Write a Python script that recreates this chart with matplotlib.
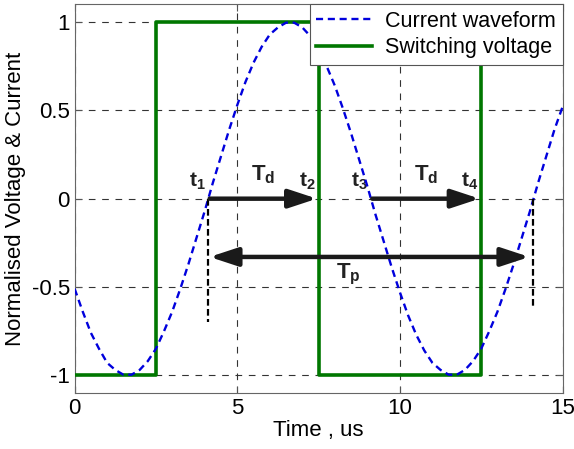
import matplotlib.pyplot as plt

plt.rcParams['font.family'] = ['Liberation Sans', 'DejaVu Sans']
plt.rcParams['mathtext.fontset'] = 'custom'
plt.rcParams['mathtext.bf'] = 'Liberation Sans:bold'
plt.rcParams['mathtext.rm'] = 'Liberation Sans'

# current waveform, every 0.25 us
time_us = [i * 0.25 for i in range(61)]
current = [-0.51, -0.64, -0.76, -0.85, -0.93, -0.97, -0.997, -0.997, -0.97, -0.92,
           -0.85, -0.75, -0.64, -0.51, -0.37, -0.22, -0.07, 0.09, 0.24, 0.39,
           0.53, 0.66, 0.77, 0.86, 0.93, 0.97, 0.997, 0.997, 0.97, 0.92,
           0.85, 0.75, 0.64, 0.51, 0.37, 0.22, 0.07, -0.09, -0.24, -0.39,
           -0.53, -0.66, -0.77, -0.86, -0.93, -0.97, -0.997, -0.997, -0.97, -0.92,
           -0.85, -0.75, -0.64, -0.51, -0.37, -0.22, -0.07, 0.09, 0.24, 0.39, 0.52]

# switching voltage (square wave corners)
sw_time = [0, 2.5, 2.5, 7.5, 7.5, 12.5, 12.5, 15]
sw_volt = [-1, -1, 1, 1, -1, -1, 1, 1]

# event times
t_marks = {'1': 4.1, '2': 7.5, '3': 9.1, '4': 12.5}
tp_end = 14.1
tp_level = -0.33

fig, ax = plt.subplots(figsize=(5.74, 4.49), dpi=100)
fig.subplots_adjust(left=0.13, right=0.98, bottom=0.125, top=0.99)

ax.plot(time_us, current, color='#0000dd', lw=1.7, ls=(0, (3, 2)), label='Current waveform', zorder=4)
ax.plot(sw_time, sw_volt, color='#007700', lw=2.6, label='Switching voltage', zorder=3)

# dashed markers below t1 and end of Tp
ax.plot([t_marks['1'], t_marks['1']], [0, -0.70], color='black', lw=1.6, ls=(0, (3, 1.5)), zorder=5)
ax.plot([tp_end, tp_end], [0, -0.62], color='black', lw=1.6, ls=(0, (3, 1.5)), zorder=5)

arrow = dict(arrowstyle='-|>,head_length=0.85,head_width=0.28', lw=3.2, color='#1a1a1a',
             mutation_scale=20, shrinkA=0, shrinkB=0)
ax.annotate('', xy=(t_marks['2'] - 0.05, 0), xytext=(t_marks['1'] + 0.05, 0), arrowprops=arrow, zorder=6)
ax.annotate('', xy=(t_marks['4'] - 0.05, 0), xytext=(t_marks['3'] + 0.05, 0), arrowprops=arrow, zorder=6)
darrow = dict(arrow, arrowstyle='<|-|>,head_length=0.85,head_width=0.28')
ax.annotate('', xy=(tp_end - 0.12, tp_level), xytext=(t_marks['1'] + 0.05, tp_level), arrowprops=darrow, zorder=6)

for k, tx in t_marks.items():
    ax.text(tx - 0.08, 0.04, '$\\mathbf{t_{' + k + '}}$', ha='right', va='bottom', fontsize=15, color='#222222')
ax.text(5.8, 0.07, '$\\mathbf{T_d}$', ha='center', va='bottom', fontsize=16, color='#222222')
ax.text(10.8, 0.07, '$\\mathbf{T_d}$', ha='center', va='bottom', fontsize=16, color='#222222')
ax.text(8.4, tp_level - 0.03, '$\\mathbf{T_p}$', ha='center', va='top', fontsize=16, color='#222222')

ax.set_xlim(0, 15)
ax.set_ylim(-1.1, 1.1)
ax.set_xticks([0, 5, 10, 15])
ax.set_yticks([-1, -0.5, 0, 0.5, 1])
ax.set_yticklabels(['-1', '-0.5', '0', '0.5', '1'])
ax.tick_params(direction='in', top=True, right=True, labelsize=16, length=5, color='#555555')
ax.grid(True, color='#333333', ls=(0, (6, 6)), lw=0.8)
for s in ax.spines.values():
    s.set_color('#666666')

ax.set_xlabel('Time , us', fontsize=16, labelpad=1)
ax.set_ylabel('Normalised Voltage & Current', fontsize=16, labelpad=4)

leg = ax.legend(loc='upper right', fontsize=15.5, fancybox=False, framealpha=1,
                edgecolor='#555555', borderaxespad=0, handlelength=2.6,
                borderpad=0.3, labelspacing=0.25, handletextpad=0.6)
leg.get_frame().set_linewidth(0.8)

fig.savefig('out.png', dpi=100)
